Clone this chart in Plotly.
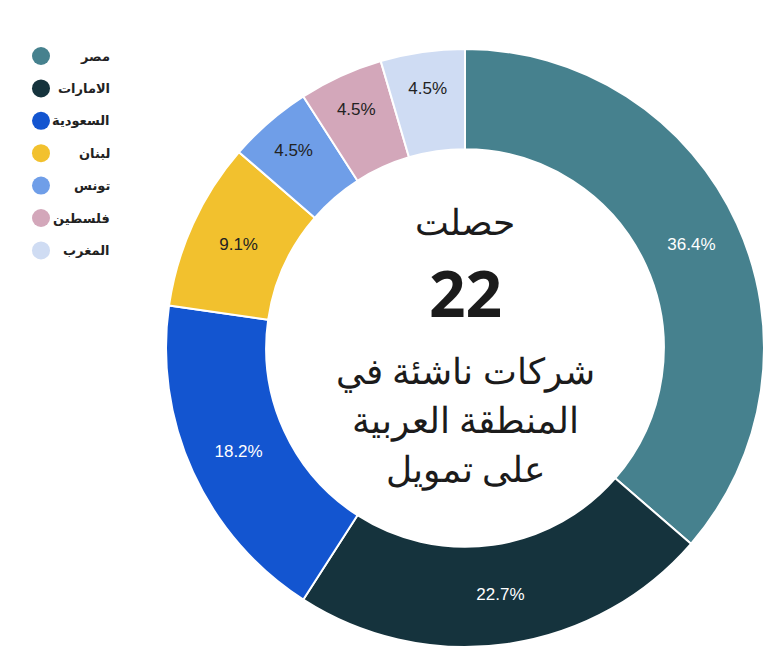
import plotly.graph_objects as go

labels = ["مصر", "الامارات", "السعودية", "لبنان", "تونس", "فلسطين", "المغرب"]
values = [8, 5, 4, 2, 1, 1, 1]
colors = ["#46818e", "#15333d", "#1355d0", "#f2c12e", "#6f9ee8", "#d3a7ba", "#cfdcf3"]
text_colors = ["white", "white", "white", "#222", "#222", "#222", "#222"]

W, H = 776, 648
cx, cy, R = 457, 340, 299

fig = go.Figure(go.Pie(
    labels=labels, values=values, hole=0.665, sort=False, direction="clockwise",
    rotation=0, marker=dict(colors=colors, line=dict(color="white", width=2)),
    texttemplate="%{percent:.1%}", textposition="inside", insidetextorientation="horizontal",
    textfont=dict(color=text_colors, size=17, family="Liberation Sans"),
    showlegend=False,
    domain=dict(x=[(cx - R) / W, (cx + R) / W], y=[(H - cy - R) / H, (H - cy + R) / H]),
))

shapes, ann = [], []
for i, (lab, col) in enumerate(zip(labels, colors)):
    y = 48 + i * 32.4
    shapes.append(dict(type="circle", xref="paper", yref="paper",
                       x0=(33 - 9) / W, x1=(33 + 9) / W, y0=(H - y - 9) / H, y1=(H - y + 9) / H,
                       fillcolor=col, line=dict(width=0)))
    ann.append(dict(x=104 / W, y=(H - y) / H, xref="paper", yref="paper", text="<b>" + lab + "</b>",
                    xanchor="right", yanchor="middle", showarrow=False,
                    font=dict(size=13, color="#222", family="DejaVu Sans")))

center = [("حصلت", 213, 36, False), ("22", 285, 64, True), ("شركات ناشئة في", 362, 36, False),
          ("المنطقة العربية", 411, 36, False), ("على تمويل", 460, 36, False)]
for t, y, s, b in center:
    ann.append(dict(x=cx / W, y=(H - y) / H, xref="paper", yref="paper",
                    text=("<b>%s</b>" % t) if b else t, showarrow=False,
                    xanchor="center", yanchor="middle",
                    font=dict(size=s, color="#1b1b1b", family="Noto Sans")))

fig.update_layout(width=W, height=H, margin=dict(l=0, r=0, t=0, b=0),
                  paper_bgcolor="white", shapes=shapes, annotations=ann)
fig.write_html("out.html")
